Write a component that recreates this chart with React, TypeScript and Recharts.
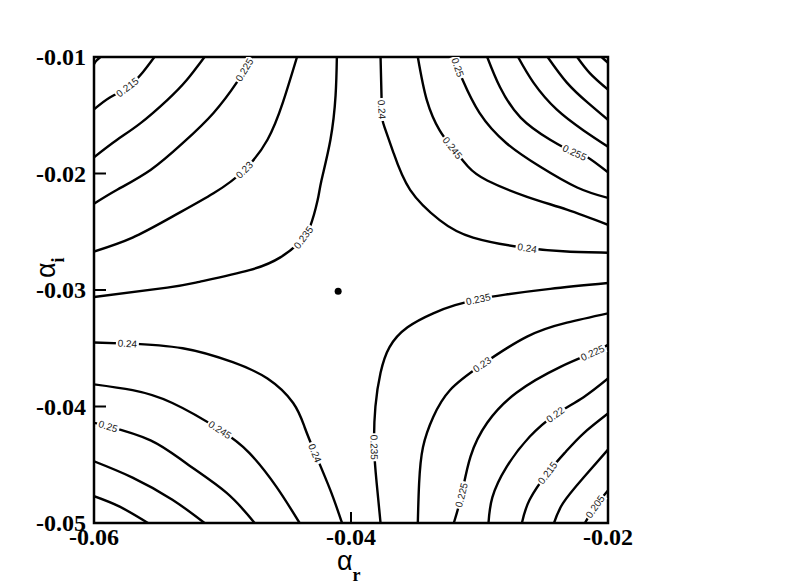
import React from 'react';
import { ComposedChart, Line, Scatter, XAxis, YAxis, ReferenceArea } from 'recharts';

type Pt = [number, number];

// contour lines as [alpha_r, alpha_i] pairs
// upper-left family
const ul210: Pt[] = [[-0.06, -0.0106], [-0.0598, -0.0103], [-0.0595, -0.01]];
const ul215: Pt[] = [[-0.06, -0.0145], [-0.0588, -0.0135], [-0.0574, -0.0126], [-0.0562, -0.0113], [-0.0553, -0.01]];
const ul220: Pt[] = [[-0.06, -0.0186], [-0.0582, -0.0171], [-0.0564, -0.0157], [-0.0543, -0.0137], [-0.0528, -0.012], [-0.0514, -0.01]];
const ul225: Pt[] = [[-0.06, -0.0226], [-0.0582, -0.0214], [-0.0556, -0.0197], [-0.0531, -0.0174], [-0.0507, -0.0148], [-0.0489, -0.0122], [-0.0483, -0.0111], [-0.0477, -0.01]];
const ul230: Pt[] = [[-0.06, -0.0267], [-0.057, -0.0255], [-0.0539, -0.0237], [-0.0507, -0.0217], [-0.0483, -0.0197], [-0.0465, -0.0171], [-0.0453, -0.0139], [-0.0442, -0.01]];
const ul235: Pt[] = [[-0.06, -0.0306], [-0.0543, -0.0298], [-0.0518, -0.0293], [-0.0479, -0.0283], [-0.0455, -0.0272], [-0.0442, -0.0261], [-0.0437, -0.0255], [-0.0432, -0.0246], [-0.0426, -0.0223], [-0.0423, -0.0206], [-0.0416, -0.0171], [-0.0412, -0.0133], [-0.0411, -0.01]];

// upper-right family
const ur240: Pt[] = [[-0.0377, -0.01], [-0.0376, -0.0145], [-0.0374, -0.016], [-0.0367, -0.0182], [-0.0354, -0.0214], [-0.0331, -0.024], [-0.0305, -0.0255], [-0.0263, -0.0264], [-0.0232, -0.0267], [-0.02, -0.0268]];
const ur245: Pt[] = [[-0.0348, -0.01], [-0.0341, -0.0137], [-0.0331, -0.0163], [-0.0321, -0.0178], [-0.0309, -0.0194], [-0.0294, -0.0206], [-0.0263, -0.022], [-0.0232, -0.0231], [-0.02, -0.0244]];
const ur250: Pt[] = [[-0.0319, -0.01], [-0.0317, -0.0109], [-0.0313, -0.012], [-0.03, -0.0148], [-0.0279, -0.0174], [-0.0253, -0.0194], [-0.0224, -0.0212], [-0.02, -0.0221]];
const ur255: Pt[] = [[-0.0294, -0.01], [-0.0284, -0.0126], [-0.0268, -0.0152], [-0.0245, -0.0171], [-0.0226, -0.0182], [-0.0216, -0.0186], [-0.02, -0.0199]];
const ur260: Pt[] = [[-0.027, -0.01], [-0.0258, -0.0122], [-0.024, -0.0145], [-0.0219, -0.0163], [-0.02, -0.0177]];
const ur265: Pt[] = [[-0.0247, -0.01], [-0.0232, -0.0122], [-0.0216, -0.0139], [-0.02, -0.0154]];
const ur270: Pt[] = [[-0.0224, -0.01], [-0.0214, -0.0114], [-0.02, -0.0128]];
const ur275: Pt[] = [[-0.0205, -0.01], [-0.0202, -0.0103], [-0.02, -0.0105]];

// lower-right family
const lr235: Pt[] = [[-0.02, -0.0294], [-0.0245, -0.0299], [-0.028, -0.0304], [-0.0301, -0.0308], [-0.0319, -0.0313], [-0.0336, -0.032], [-0.0356, -0.0332], [-0.037, -0.0349], [-0.0377, -0.0371], [-0.0381, -0.04], [-0.0382, -0.0435], [-0.038, -0.0466], [-0.0377, -0.05]];
const lr230: Pt[] = [[-0.02, -0.032], [-0.0232, -0.0328], [-0.0263, -0.034], [-0.0298, -0.0364], [-0.0323, -0.0386], [-0.0336, -0.0409], [-0.0344, -0.0435], [-0.0347, -0.0466], [-0.0348, -0.05]];
const lr225: Pt[] = [[-0.02, -0.0347], [-0.0212, -0.0354], [-0.0237, -0.0366], [-0.0271, -0.0388], [-0.0294, -0.0414], [-0.0307, -0.0443], [-0.0314, -0.0476], [-0.032, -0.05]];
const lr220: Pt[] = [[-0.02, -0.0376], [-0.0219, -0.0392], [-0.0241, -0.0407], [-0.0261, -0.0426], [-0.0279, -0.0452], [-0.029, -0.0478], [-0.0293, -0.05]];
const lr215: Pt[] = [[-0.02, -0.0406], [-0.0219, -0.0423], [-0.0233, -0.0439], [-0.0247, -0.0457], [-0.0261, -0.048], [-0.0267, -0.05]];
const lr210: Pt[] = [[-0.02, -0.0437], [-0.0219, -0.0461], [-0.0235, -0.0483], [-0.0242, -0.05]];
const lr205: Pt[] = [[-0.02, -0.0472], [-0.021, -0.0486], [-0.0218, -0.05]];

// lower-left family
const ll240: Pt[] = [[-0.06, -0.0345], [-0.0574, -0.0346], [-0.0531, -0.035], [-0.0492, -0.0362], [-0.0465, -0.0376], [-0.0445, -0.0397], [-0.0436, -0.0418], [-0.0428, -0.044], [-0.0416, -0.0472], [-0.0407, -0.05]];
const ll245: Pt[] = [[-0.06, -0.0381], [-0.057, -0.0386], [-0.0539, -0.0397], [-0.0502, -0.042], [-0.0479, -0.044], [-0.0458, -0.0469], [-0.044, -0.05]];
const ll250: Pt[] = [[-0.06, -0.0414], [-0.0589, -0.0417], [-0.0556, -0.0429], [-0.0528, -0.0449], [-0.0497, -0.0474], [-0.0475, -0.05]];
const ll255: Pt[] = [[-0.06, -0.0447], [-0.057, -0.0461], [-0.0539, -0.048], [-0.0514, -0.05]];
const ll260: Pt[] = [[-0.06, -0.0477], [-0.058, -0.0486], [-0.0558, -0.05]];

const saddle = [{ x: -0.041, y: -0.0301 }];

const xTicks = [-0.06, -0.04, -0.02];
const yTicks = [-0.05, -0.04, -0.03, -0.02, -0.01];

// inline contour labels: which line, which point
const contourLabels = [
  { line: 'ul215', at: 2, text: '0.215' },
  { line: 'ul225', at: 6, text: '0.225' },
  { line: 'ul230', at: 4, text: '0.23' },
  { line: 'ul235', at: 6, text: '0.235' },
  { line: 'ur240', at: 1, text: '0.24' },
  { line: 'ur240', at: 7, text: '0.24' },
  { line: 'ur245', at: 3, text: '0.245' },
  { line: 'ur250', at: 1, text: '0.25' },
  { line: 'ur255', at: 4, text: '0.255' },
  { line: 'lr235', at: 3, text: '0.235' },
  { line: 'lr235', at: 10, text: '0.235' },
  { line: 'lr230', at: 3, text: '0.23' },
  { line: 'lr225', at: 1, text: '0.225' },
  { line: 'lr225', at: 6, text: '0.225' },
  { line: 'lr220', at: 2, text: '0.22' },
  { line: 'lr215', at: 3, text: '0.215' },
  { line: 'lr205', at: 1, text: '0.205' },
  { line: 'll240', at: 1, text: '0.24' },
  { line: 'll240', at: 7, text: '0.24' },
  { line: 'll245', at: 3, text: '0.245' },
  { line: 'll250', at: 1, text: '0.25' },
];

const lines: Record<string, Pt[]> = {
  ul210, ul215, ul220, ul225, ul230, ul235,
  ur240, ur245, ur250, ur255, ur260, ur265, ur270, ur275,
  lr235, lr230, lr225, lr220, lr215, lr210, lr205,
  ll240, ll245, ll250, ll255, ll260,
};

const serif = '"Liberation Serif", "Times New Roman", serif';
const sans = '"Liberation Sans", Arial, sans-serif';

const makeDot = (name: string) => (props: any) => {
  const { cx, cy, index, points } = props;
  const lab = contourLabels.find((l) => l.line === name && l.at === index);
  if (!lab || cx == null) return <g key={`d-${name}-${index}`} />;
  let ang = 0;
  if (points && points[index - 1] && points[index + 1]) {
    const a = points[index - 1];
    const b = points[index + 1];
    ang = (Math.atan2(b.y - a.y, b.x - a.x) * 180) / Math.PI;
    if (ang > 90) ang -= 180;
    if (ang <= -90) ang += 180;
  }
  const w = lab.text.length * 5 + 3;
  return (
    <g key={`d-${name}-${index}`} transform={`translate(${cx},${cy}) rotate(${ang})`}>
      <rect x={-w / 2} y={-5} width={w} height={10} fill="#fff" />
      <text x={0} y={0} dy="0.35em" textAnchor="middle" fontFamily={sans} fontSize={10} fill="#222">
        {lab.text}
      </text>
    </g>
  );
};

const XTick = ({ x, y, payload }: any) => (
  <g>
    <line x1={x} y1={y} x2={x} y2={y - 11} stroke="#000" strokeWidth={2} />
    <text x={x} y={y + 22} textAnchor="middle" fontFamily={serif} fontWeight="bold" fontSize={24} fill="#000">
      {Number(payload.value).toFixed(2)}
    </text>
  </g>
);

const YTick = ({ x, y, payload }: any) => (
  <g>
    <line x1={x} y1={y} x2={x + 12} y2={y} stroke="#000" strokeWidth={2} />
    <text x={x - 8} y={y + 8} textAnchor="end" fontFamily={serif} fontWeight="bold" fontSize={24} fill="#000">
      {Number(payload.value).toFixed(2)}
    </text>
  </g>
);

const XTitle = () => (
  <text x={337} y={570} fill="#000">
    <tspan fontFamily={sans} fontSize={27}>α</tspan>
    <tspan fontFamily={serif} fontWeight="bold" fontSize={18} dy={11}>r</tspan>
  </text>
);

const YTitle = () => (
  <text transform="translate(55,278) rotate(-90)" fill="#000">
    <tspan fontFamily={sans} fontSize={27}>α</tspan>
    <tspan fontFamily={serif} fontWeight="bold" fontSize={18} dy={9}>i</tspan>
  </text>
);

export default function App() {
  return (
    <div style={{ position: 'absolute', left: 0, top: 0, background: '#fff' }}>
      <ComposedChart width={789} height={581} margin={{ top: 57, right: 181, bottom: 0, left: 0 }}>
        <XAxis
          type="number"
          dataKey="x"
          domain={[-0.06, -0.02]}
          ticks={xTicks}
          allowDataOverflow
          axisLine={false}
          tickLine={false}
          tickSize={0}
          tickMargin={0}
          height={58}
          tick={<XTick />}
          label={{ content: <XTitle /> }}
        />
        <YAxis
          type="number"
          dataKey="y"
          domain={[-0.05, -0.01]}
          ticks={yTicks}
          allowDataOverflow
          axisLine={false}
          tickLine={false}
          tickSize={0}
          tickMargin={0}
          width={94}
          tick={<YTick />}
          label={{ content: <YTitle /> }}
        />
        {Object.entries(lines).map(([name, pts]) => (
          <Line
            key={name}
            data={pts.map(([x, y]) => ({ x, y }))}
            dataKey="y"
            type="natural"
            stroke="#000"
            strokeWidth={2.4}
            dot={makeDot(name)}
            activeDot={false}
            isAnimationActive={false}
          />
        ))}
        <Scatter
          data={saddle}
          dataKey="y"
          fill="#000"
          isAnimationActive={false}
          shape={(p: any) => <circle cx={p.cx} cy={p.cy} r={3.5} fill="#000" />}
        />
        <ReferenceArea
          x1={-0.06}
          x2={-0.02}
          y1={-0.05}
          y2={-0.01}
          fill="none"
          fillOpacity={0}
          stroke="#000"
          strokeWidth={2.5}
        />
      </ComposedChart>
    </div>
  );
}
